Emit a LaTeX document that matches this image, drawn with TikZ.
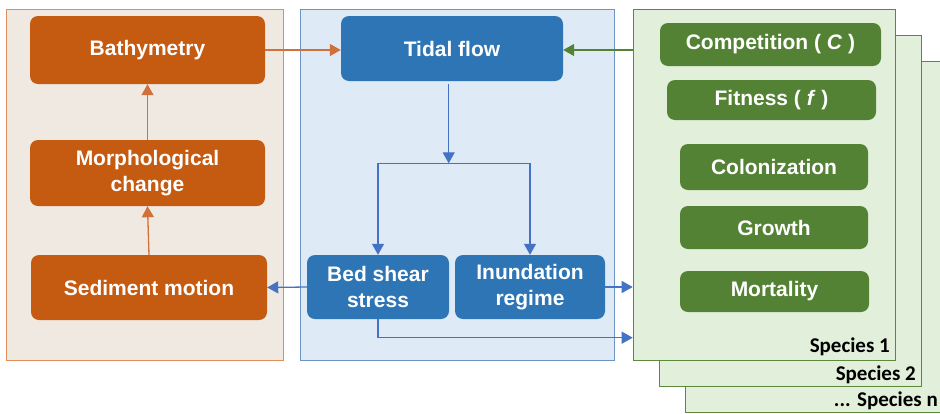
\documentclass[tikz,border=0pt]{standalone}
\usepackage{fontspec}
\setmainfont{Liberation Sans}
\newfontfamily\spfont{Carlito}
\usetikzlibrary{arrows.meta}
\definecolor{orbox}{HTML}{C55A11}
\definecolor{orfill}{RGB}{240,233,226}
\definecolor{orline}{HTML}{DF8E57}
\definecolor{orarrow}{HTML}{D0703A}
\definecolor{blbox}{HTML}{2E75B6}
\definecolor{blfill}{HTML}{DEEBF7}
\definecolor{blline}{HTML}{6D93C2}
\definecolor{blarrow}{HTML}{4472C4}
\definecolor{grbox}{HTML}{548235}
\definecolor{grfill}{HTML}{E2EFDA}
\definecolor{grline}{HTML}{5B8A3C}
\begin{document}
\begin{tikzpicture}[x=1pt,y=-1pt,
  box/.style={rectangle, rounded corners=8pt, text=white, inner sep=0pt, align=center,
    font=\fontsize{21}{26}\selectfont\bfseries},
  obox/.style={box, fill=orbox},
  bbox/.style={box, fill=blbox},
  gbox/.style={box, fill=grbox},
  panel/.style={rectangle, inner sep=0pt, line width=1.2pt},
  tip/.style={-{Triangle[length=11pt,width=12pt]}},
  oarrow/.style={tip, draw=orarrow, line width=1.3pt},
  barrow/.style={tip, draw=blarrow, line width=1.3pt},
  garrow/.style={tip, draw=grbox, line width=1.3pt},
  splabel/.style={inner sep=0pt, font=\spfont\fontsize{21}{23}\selectfont\bfseries, text=black}
]
\useasboundingbox (0,0) rectangle (940,413);
\fill[white] (0,0) rectangle (940,413);

% panels
\node[panel, fill=orfill, draw=orline, minimum width=276.6pt, minimum height=351.4pt] (lp) at (145,185) {};
\node[panel, fill=blfill, draw=blline, minimum width=313.6pt, minimum height=351.4pt] (mp) at (457.5,185) {};
\node[panel, fill=grfill, draw=grline, minimum width=262.4pt, minimum height=351.4pt] (spn) at (816.5,237) {};
\node[panel, fill=grfill, draw=grline, minimum width=262.4pt, minimum height=351.4pt] (sp2) at (790.5,211) {};
\node[panel, fill=grfill, draw=grline, minimum width=262.4pt, minimum height=351.4pt] (sp1) at (764.5,185) {};

\node[splabel, anchor=base east] (l1) at (890,352) {Species 1};
\node[splabel, anchor=base east] (l2) at (916,380) {Species 2};
\node[splabel, anchor=base east] (ln) at (938,406) {... Species n};

% orange boxes
\node[obox, minimum width=235pt, minimum height=68pt] (bath) at (147.5,50) {Bathymetry};
\node[obox, minimum width=235pt, minimum height=66pt] (morph) at (147.5,173) {Morphological\\change};
\node[obox, minimum width=236pt, minimum height=65pt] (sed) at (149,287.5) {Sediment motion};

% blue boxes
\node[bbox, minimum width=222pt, minimum height=65pt] (tidal) at (452,48.5) {Tidal flow};
\node[bbox, minimum width=142pt, minimum height=64pt] (bed) at (378,287) {Bed shear\\stress};
\node[bbox, minimum width=150pt, minimum height=64pt] (inund) at (530,287) {Inundation\\regime};

% green boxes
\node[gbox, minimum width=221pt, minimum height=43pt] (comp) at (770.5,44.5) {Competition ( \textit{C} )};
\node[gbox, minimum width=209pt, minimum height=40pt] (fit) at (771.5,100) {Fitness ( \textit{f} )};
\node[gbox, minimum width=188pt, minimum height=46pt] (col) at (774,167) {Colonization};
\node[gbox, minimum width=188pt, minimum height=43pt] (gro) at (774,227.5) {Growth};
\node[gbox, minimum width=189pt, minimum height=41pt] (mor) at (774.5,291.5) {Mortality};

% connectors
\coordinate (split) at (448.7,163.3);
\draw[oarrow] (sed.north) -- (morph.south);
\draw[oarrow] (morph.north) -- (bath.south);
\draw[oarrow] (bath.east) -- (tidal.west |- bath.east);
\draw[garrow] (sp1.west |- bath.east) -- (tidal.east |- bath.east);
\draw[barrow] ([xshift=-3.3pt,yshift=-3pt]tidal.south) -- (split);
\draw[blarrow, line width=1.3pt, {Triangle[length=11pt,width=12pt]}-{Triangle[length=11pt,width=12pt]}]
  (bed.north) |- (inund.north |- split) -- (inund.north);
\draw[barrow] (bed.west) -- (sed.east);
\draw[barrow] (inund.east) -- (sp1.west |- inund.east);
\draw[barrow] (bed.south) |- (sp1.west |- 0,337.7);
\end{tikzpicture}
\end{document}
